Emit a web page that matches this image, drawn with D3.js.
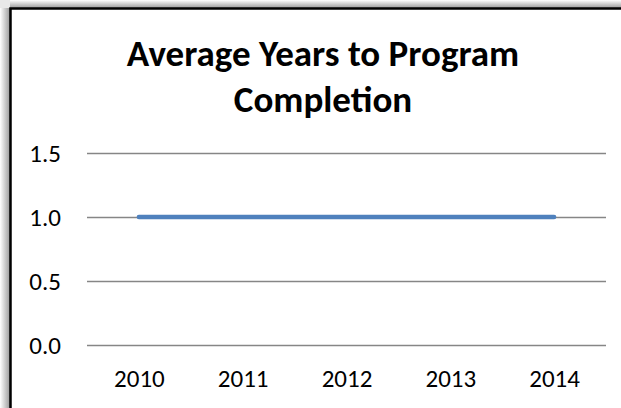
<!DOCTYPE html>
<html><head><meta charset="utf-8">
<script src="https://cdn.jsdelivr.net/npm/d3@7"></script>
<style>html,body{margin:0;padding:0;background:#fff;overflow:hidden}</style>
</head><body>
<script>
const years = ["2010","2011","2012","2013","2014"];
const avgYears = [1.0, 1.0, 1.0, 1.0, 1.0];
const yTicks = [0, 0.5, 1.0, 1.5];
const titleLines = ["Average Years to Program", "Completion"];

const W = 621, H = 408;
const svg = d3.select("body").append("svg").attr("width", W).attr("height", H);
const defs = svg.append("defs");
const gh = defs.append("linearGradient").attr("id","gh").attr("x1",0).attr("x2",1).attr("y1",0).attr("y2",0);
gh.append("stop").attr("offset","0%").attr("stop-color","#fff");
gh.append("stop").attr("offset","100%").attr("stop-color","#9a9a9a");
const gv = defs.append("linearGradient").attr("id","gv").attr("x1",0).attr("x2",0).attr("y1",0).attr("y2",1);
gv.append("stop").attr("offset","0%").attr("stop-color","#fff");
gv.append("stop").attr("offset","100%").attr("stop-color","#9a9a9a");

svg.append("rect").attr("x",0).attr("y",0).attr("width",W).attr("height",H).attr("fill","#fff");
svg.append("rect").attr("x",0).attr("y",8).attr("width",10).attr("height",H).attr("fill","url(#gh)");
svg.append("rect").attr("x",8).attr("y",0).attr("width",W).attr("height",8).attr("fill","url(#gv)");
svg.append("rect").attr("x",0).attr("y",0).attr("width",10).attr("height",8).attr("fill","#e8e8e8");
svg.append("path").attr("d",`M10.5,${H} V8.5 H${W}`).attr("fill","none").attr("stroke","#000").attr("stroke-width",2.5);

const font = "Carlito, Calibri, 'Open Sans', sans-serif";
const x = d3.scalePoint().domain(years).range([87, 606]).padding(0.5);
const y = d3.scaleLinear().domain([0, 1.5]).range([345, 153]);

const t = svg.append("g").attr("font-family", font).attr("font-weight","bold").attr("font-size",37).attr("text-anchor","middle").attr("fill","#000");
titleLines.forEach((s,i)=> t.append("text").attr("x",323).attr("y",66+i*46).text(s));

const yAxis = d3.axisLeft(y).tickValues(yTicks).tickFormat(d3.format(".1f")).tickSize(-(606-87)).tickPadding(26);
const gy = svg.append("g").attr("transform","translate(87,0)").call(yAxis);
gy.select(".domain").remove();
gy.selectAll("line").attr("stroke","#868686").attr("stroke-width",1.3);
gy.selectAll("text").attr("font-family",font).attr("font-size",25).attr("fill","#000").attr("dy","0.32em");

const xAxis = d3.axisBottom(x).tickSize(0).tickPadding(23);
const gx = svg.append("g").attr("transform","translate(0,345)").call(xAxis);
gx.select(".domain").remove();
gx.selectAll("text").attr("font-family",font).attr("font-size",25).attr("fill","#000").attr("y",42).attr("dy",0);

const line = d3.line().x((d,i)=>x(years[i])).y(d=>y(d));
svg.append("path").datum(avgYears).attr("d",line).attr("fill","none").attr("stroke","#4F81BD").attr("stroke-width",4.5).attr("stroke-linecap","round");
</script>
</body></html>
